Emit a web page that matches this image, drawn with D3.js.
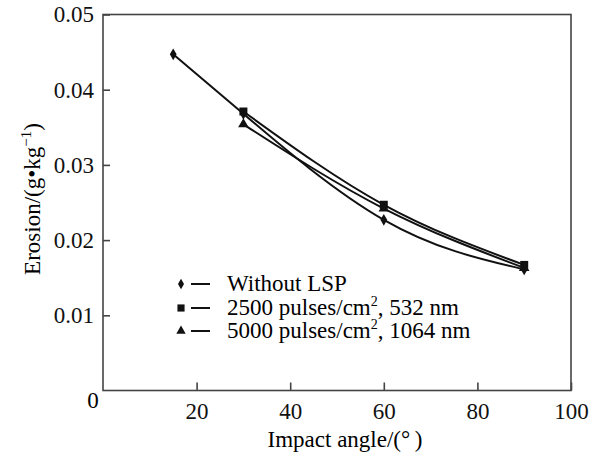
<!DOCTYPE html>
<html>
<head>
<meta charset="utf-8">
<script src="https://cdn.jsdelivr.net/npm/d3@7"></script>
<style>
    body { margin: 0; background: #fff; }
</style>
</head>
<body>
<div id="chart"></div>
<script>
// data
const angles = [15, 30, 60, 90];
const withoutLSP = [0.0447, 0.0368, 0.0227, 0.0161];
const angles2 = [30, 60, 90];
const lsp532 = [0.0371, 0.0247, 0.0167];
const lsp1064 = [0.0354, 0.0242, 0.0163];

const xTicks = [20, 40, 60, 80, 100];
const yTicks = [0.01, 0.02, 0.03, 0.04, 0.05];

const series = [
    { name: 'Without LSP', sup: null, rest: null, x: angles, y: withoutLSP, mark: d3.symbolDiamond, size: 40 },
    { name: '2500 pulses/cm', sup: '2', rest: ', 532 nm', x: angles2, y: lsp532, mark: d3.symbolSquare, size: 64 },
    { name: '5000 pulses/cm', sup: '2', rest: ', 1064 nm', x: angles2, y: lsp1064, mark: d3.symbolTriangle, size: 48 },
];

const FONT = "'Liberation Serif', 'DejaVu Serif', serif";

let margin = { left: 103, right: 27, top: 14.5, bottom: 62.5 };
let W = 598, H = 453;

let svg = d3.select('#chart').append('svg').attr('width', W).attr('height', H)
    .attr('font-family', FONT);

let x = d3.scaleLinear().domain([0, 100]).range([margin.left, W - margin.right]);
let y = d3.scaleLinear().domain([0, 0.05]).range([H - margin.bottom, margin.top]);

// frame
svg.append('rect')
    .attr('x', x(0)).attr('y', y(0.05))
    .attr('width', x(100) - x(0)).attr('height', y(0) - y(0.05))
    .attr('fill', 'none').attr('stroke', '#444').attr('stroke-width', 1.6);

// axes
let gx = svg.append('g')
    .attr('transform', `translate(0,${y(0)})`)
    .call(d3.axisBottom(x).tickValues(xTicks).tickSizeInner(-8).tickSizeOuter(0).tickPadding(12));
let gy = svg.append('g')
    .attr('transform', `translate(${x(0)},0)`)
    .call(d3.axisLeft(y).tickValues(yTicks).tickFormat(d3.format('.2f')).tickSizeInner(-7).tickSizeOuter(0).tickPadding(9));

[gx, gy].forEach((g) => {
    g.attr('font-family', FONT).attr('font-size', 23);
    g.select('.domain').remove();
    g.selectAll('.tick line').attr('stroke', '#444').attr('stroke-width', 1.6);
    g.selectAll('.tick text').attr('fill', '#111');
});
gx.selectAll('.tick text').attr('dy', '0.72em');

// origin label
svg.append('text').attr('x', 93).attr('y', 408).attr('text-anchor', 'middle').attr('font-size', 23).text('0');

// axis titles
svg.append('text').attr('x', 345).attr('y', 447).attr('text-anchor', 'middle').attr('font-size', 23)
    .text('Impact angle/(\u00B0\u2009)');

let yt = svg.append('text').attr('transform', `translate(40,199) rotate(-90)`).attr('text-anchor', 'middle').attr('font-size', 23);
yt.append('tspan').text('Erosion/(g•kg');
yt.append('tspan').attr('dy', -9).attr('font-size', 15).text('−1');
yt.append('tspan').attr('dy', 9).text(')');

// curves
let line = d3.line()
    .curve(d3.curveNatural)
    .x((d) => x(d[0]))
    .y((d) => y(d[1]));

series.forEach((s) => {
    let pts = s.x.map((v, i) => [v, s.y[i]]);
    svg.append('path').datum(pts).attr('d', line)
        .attr('fill', 'none').attr('stroke', '#111').attr('stroke-width', 2);
});

series.forEach((s) => {
    let pts = s.x.map((v, i) => [v, s.y[i]]);
    svg.selectAll(null).data(pts).enter().append('path')
        .attr('d', d3.symbol().type(s.mark).size(s.size))
        .attr('transform', (d) => `translate(${x(d[0])},${y(d[1])})`)
        .attr('fill', '#111');
});

// legend
let legY = [284, 308, 331];
series.forEach((s, i) => {
    let g = svg.append('g').attr('transform', `translate(181,${legY[i]})`);
    g.append('path').attr('d', d3.symbol().type(s.mark).size(s.size * 0.8)).attr('fill', '#111');
    g.append('line').attr('x1', 10).attr('x2', 29).attr('stroke', '#111').attr('stroke-width', 2);
    let t = g.append('text').attr('x', 46).attr('y', 7).attr('font-size', 23);
    t.append('tspan').text(s.name);
    if (s.sup) {
        t.append('tspan').attr('dy', -9).attr('font-size', 14).text(s.sup);
        t.append('tspan').attr('dy', 9).text(s.rest);
    }
});
</script>
</body>
</html>
